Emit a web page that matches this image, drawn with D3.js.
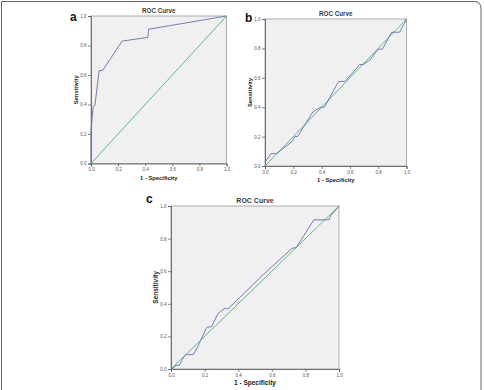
<!DOCTYPE html>
<html>
<head>
<meta charset="utf-8">
<script src="https://cdn.jsdelivr.net/npm/d3@7"></script>
<style>
  body { margin: 0; background: #fff; }
  svg { display: block; font-family: "Liberation Sans", Arial, sans-serif; }
</style>
</head>
<body>
<div id="chart"></div>
<script>
// ROC curves for three panels (a, b, c)

const ticks = [0, 0.2, 0.4, 0.6, 0.8, 1.0];

const fprA = [0, 0, 0.015, 0.03, 0.06, 0.085, 0.23, 0.42, 0.425, 1];
const tprA = [0, 0.22, 0.38, 0.40, 0.63, 0.63, 0.83, 0.855, 0.91, 1];

const fprB = [0, 0.042, 0.082, 0.19, 0.21, 0.23, 0.34, 0.395, 0.42, 0.52, 0.565, 0.67, 0.695, 0.74, 0.80, 0.83, 0.894, 0.95, 0.985, 1];
const tprB = [0.027, 0.084, 0.084, 0.165, 0.20, 0.20, 0.37, 0.40, 0.40, 0.575, 0.575, 0.69, 0.69, 0.72, 0.795, 0.795, 0.91, 0.91, 0.97, 1];

const fprC = [0, 0.014, 0.024, 0.05, 0.074, 0.09, 0.133, 0.163, 0.21, 0.217, 0.24, 0.28, 0.316, 0.34, 0.55, 0.72, 0.745, 0.85, 0.94, 0.95, 1];
const tprC = [0, 0.006, 0.023, 0.023, 0.072, 0.088, 0.088, 0.145, 0.25, 0.258, 0.258, 0.34, 0.37, 0.37, 0.58, 0.74, 0.745, 0.915, 0.915, 0.94, 1];

const width = 484, height = 390;

const svg = d3.select("#chart")
  .append("svg")
  .attr("width", width)
  .attr("height", height)
  .attr("viewBox", [0, 0, width, height]);

// figure frame (square top-left, rounded top-right)
svg.append("path")
  .attr("d", "M1.5,392 L1.5,1.5 L474,1.5 Q481,1.5 481,8.5 L481,392")
  .attr("fill", "none")
  .attr("stroke", "#666")
  .attr("stroke-width", 1);

const panels = [
  { letter: "a", fpr: fprA, tpr: tprA, x0: 91, x1: 226.5, y0: 16, y1: 163.5, lx: 70, ly: 21 },
  { letter: "b", fpr: fprB, tpr: tprB, x0: 265, x1: 406.5, y0: 19, y1: 166, lx: 245, ly: 22 },
  { letter: "c", fpr: fprC, tpr: tprC, x0: 171, x1: 339, y0: 206, y1: 369, lx: 146, ly: 203 }
];

panels.forEach(p => {
  const x = d3.scaleLinear().domain([0, 1]).range([p.x0, p.x1]);
  const y = d3.scaleLinear().domain([0, 1]).range([p.y1, p.y0]);
  const g = svg.append("g");

  // plot background
  g.append("rect")
    .attr("x", p.x0).attr("y", p.y0)
    .attr("width", p.x1 - p.x0).attr("height", p.y1 - p.y0)
    .attr("fill", "#f0f0f0")
    .attr("stroke", "#9a9a9a")
    .attr("stroke-width", 0.8);

  // axes
  const xAxis = g.append("g")
    .attr("transform", `translate(0,${p.y1})`)
    .call(d3.axisBottom(x).tickValues(ticks).tickFormat(d3.format(".1f")).tickSize(3).tickPadding(1.5));
  const yAxis = g.append("g")
    .attr("transform", `translate(${p.x0},0)`)
    .call(d3.axisLeft(y).tickValues(ticks).tickFormat(d3.format(".1f")).tickSize(3).tickPadding(1.5));
  [xAxis, yAxis].forEach(ax => {
    ax.select(".domain").attr("stroke", "#555").attr("stroke-width", 0.8);
    ax.selectAll(".tick line").attr("stroke", "#555").attr("stroke-width", 0.7);
    ax.selectAll(".tick text").attr("font-size", 4.5).attr("fill", "#555")
      .attr("font-family", "Liberation Sans, Arial, sans-serif");
  });

  // reference line
  g.append("line")
    .attr("x1", x(0)).attr("y1", y(0))
    .attr("x2", x(1)).attr("y2", y(1))
    .attr("stroke", "#52b07e")
    .attr("stroke-width", 0.9);

  // ROC curve
  const pts = p.fpr.map((f, i) => [f, p.tpr[i]]);
  g.append("path")
    .datum(pts)
    .attr("fill", "none")
    .attr("stroke", "#6770ad")
    .attr("stroke-width", 0.9)
    .attr("d", d3.line().x(d => x(d[0])).y(d => y(d[1])));

  // title
  g.append("text")
    .attr("x", (p.x0 + p.x1) / 2).attr("y", p.y0 - 3)
    .attr("text-anchor", "middle")
    .attr("font-size", p.letter === "c" ? 7 : 6.3)
    .attr("font-weight", "bold")
    .attr("fill", "#3a3a3a")
    .text("ROC Curve");

  // x label
  g.append("text")
    .attr("x", (p.x0 + p.x1) / 2).attr("y", p.y1 + 16)
    .attr("text-anchor", "middle")
    .attr("font-size", p.letter === "c" ? 6.5 : 5.8)
    .attr("font-weight", "bold")
    .attr("fill", "#222")
    .text("1 - Specificity");

  // y label
  g.append("text")
    .attr("transform", `translate(${p.x0 - 13},${(p.y0 + p.y1) / 2}) rotate(-90)`)
    .attr("text-anchor", "middle")
    .attr("font-size", p.letter === "c" ? 6.5 : 5.8)
    .attr("font-weight", "bold")
    .attr("fill", "#222")
    .text("Sensitivity");

  // panel letter
  g.append("text")
    .attr("x", p.lx).attr("y", p.ly)
    .attr("font-size", 12)
    .attr("font-weight", "bold")
    .attr("fill", "#111")
    .text(p.letter);
});
</script>
</body>
</html>
